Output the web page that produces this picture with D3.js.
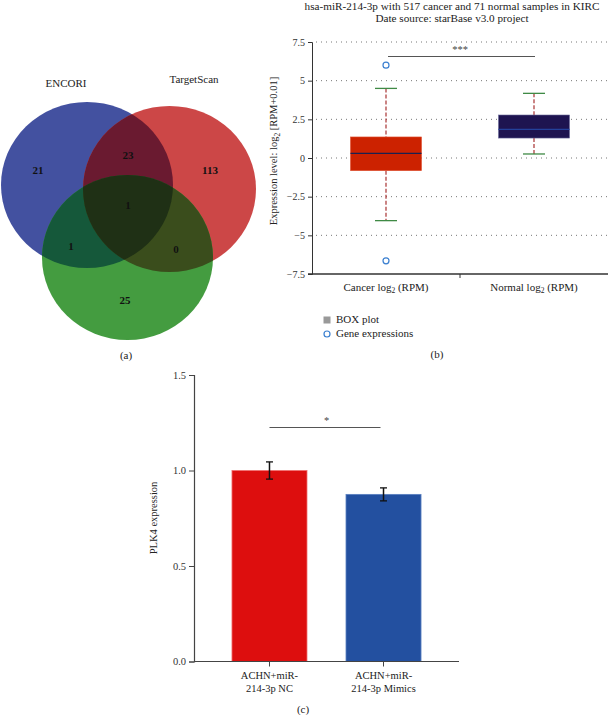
<!DOCTYPE html>
<html><head><meta charset="utf-8">
<script src="https://cdn.jsdelivr.net/npm/d3@7"></script>
<style>
body{margin:0;background:#fff;}
svg{display:block;font-family:"Liberation Serif","DejaVu Serif",serif;}
</style></head>
<body><svg id="c" width="608" height="715"></svg>
<script>
// ---------- Venn data ----------
const vennSets = ["ENCORI", "TargetScan", "Third"];
const vennRegionLabels = ["21", "113", "25", "23", "1", "0", "1"]; // A, B, C, AB, AC, BC, ABC
// ---------- Box plot data ----------
const boxCategories = ["Cancer", "Normal"];
const boxQ1 = [-0.82, 1.29];
const boxMedian = [0.3, 1.85];
const boxQ3 = [1.36, 2.78];
const boxWhiskerLow = [-4.05, 0.26];
const boxWhiskerHigh = [4.5, 4.18];
const boxOutliers = [[6.0, -6.65], []];
const boxTicks = [7.5, 5, 2.5, 0, -2.5, -5, -7.5];
// ---------- Bar data ----------
const barCategories = ["NC", "Mimics"];
const barLabels = [["ACHN+miR-", "214-3p NC"], ["ACHN+miR-", "214-3p Mimics"]];
const barValues = [1.0, 0.875];
const barErrors = [0.045, 0.034];
const barTicks = [0, 0.5, 1.0, 1.5];

const svg = d3.select("#c");
const defs = svg.append("defs");

// ================= (a) Venn =================
const ell = [
  {cx: 87, cy: 185, rx: 86, ry: 83, color: "#4351a0"},
  {cx: 169.5, cy: 189, rx: 86.5, ry: 83, color: "#cc4747"},
  {cx: 127.5, cy: 257.5, rx: 85.5, ry: 82.5, color: "#449c40"}
];
ell.forEach((e, i) => {
  defs.append("clipPath").attr("id", "clip" + i)
    .append("ellipse").attr("cx", e.cx).attr("cy", e.cy).attr("rx", e.rx).attr("ry", e.ry);
});
const gV = svg.append("g");
function drawEll(i, fill, clips) {
  let parent = gV;
  clips.forEach(c => { parent = parent.append("g").attr("clip-path", `url(#clip${c})`); });
  const e = ell[i];
  parent.append("ellipse").attr("cx", e.cx).attr("cy", e.cy).attr("rx", e.rx).attr("ry", e.ry).attr("fill", fill);
}
drawEll(0, ell[0].color, []);
drawEll(1, ell[1].color, []);
drawEll(2, ell[2].color, []);
drawEll(1, "#6a1a30", [0]);
drawEll(2, "#15583a", [0]);
drawEll(2, "#3a4d1c", [1]);
drawEll(2, "#1f3015", [0, 1]);

const vennLabelPos = [[38, 171], [210, 171], [125, 301], [128, 156], [71, 247], [176, 250], [128, 206]];
gV.selectAll("text.num").data(vennRegionLabels).join("text").attr("class", "num")
  .attr("x", (d, i) => vennLabelPos[i][0]).attr("y", (d, i) => vennLabelPos[i][1])
  .attr("text-anchor", "middle").attr("dominant-baseline", "middle")
  .attr("font-size", 11).attr("font-weight", "bold").attr("fill", "#111").text(d => d);
const setLabelPos = [[66, 84], [194, 80]];
gV.selectAll("text.set").data(vennSets.slice(0, 2)).join("text").attr("class", "set")
  .attr("x", (d, i) => setLabelPos[i][0]).attr("y", (d, i) => setLabelPos[i][1])
  .attr("text-anchor", "middle").attr("dominant-baseline", "middle")
  .attr("font-size", 11).attr("fill", "#222").text(d => d);
svg.append("text").attr("x", 126).attr("y", 356).attr("text-anchor", "middle")
  .attr("dominant-baseline", "middle").attr("font-size", 11).attr("fill", "#222").text("(a)");

// ================= (b) Box plot =================
const gB = svg.append("g");
const yB = d3.scaleLinear().domain([-7.5, 7.5]).range([274, 42]);
const xB = d3.scaleBand().domain(boxCategories).range([312, 608]).padding(0);
gB.append("text").attr("x", 452).attr("y", 7).attr("text-anchor", "middle").attr("dominant-baseline", "middle")
  .attr("font-size", 11.2).attr("fill", "#222").text("hsa-miR-214-3p with 517 cancer and 71 normal samples in KIRC");
gB.append("text").attr("x", 452).attr("y", 19).attr("text-anchor", "middle").attr("dominant-baseline", "middle")
  .attr("font-size", 11.2).attr("fill", "#222").text("Date source: starBase v3.0 project");
// gridlines
gB.selectAll("line.grid").data(boxTicks.filter(t => t !== -7.5)).join("line").attr("class", "grid")
  .attr("x1", 316).attr("x2", 608).attr("y1", d => yB(d)).attr("y2", d => yB(d))
  .attr("stroke", "#777").attr("stroke-width", 1).attr("stroke-dasharray", "1,4");
// y axis
const yAxB = gB.append("g").attr("transform", "translate(312,0)")
  .call(d3.axisLeft(yB).tickValues(boxTicks).tickSize(4).tickFormat(d3.format("")));
yAxB.select(".domain").attr("stroke", "#333");
yAxB.selectAll(".tick line").attr("stroke", "#333");
yAxB.selectAll(".tick text").attr("font-family", "Liberation Serif").attr("font-size", 10).attr("fill", "#333");
// x axis
gB.append("line").attr("x1", 308).attr("x2", 608).attr("y1", 274).attr("y2", 274).attr("stroke", "#333").attr("stroke-width", 1.3);
gB.append("line").attr("x1", xB.step() + 312).attr("x2", xB.step() + 312).attr("y1", 274).attr("y2", 278).attr("stroke", "#333");
const xlab = gB.selectAll("text.xl").data(boxCategories).join("text").attr("class", "xl")
  .attr("x", d => xB(d) + xB.bandwidth() / 2).attr("y", 288).attr("text-anchor", "middle")
  .attr("dominant-baseline", "middle").attr("font-size", 11).attr("fill", "#222");
xlab.append("tspan").text(d => d + " log");
xlab.append("tspan").attr("font-size", 7.5).attr("dy", 3).text("2");
xlab.append("tspan").attr("dy", -3).text(" (RPM)");
// y label
const yl = gB.append("text").attr("transform", "translate(275,151) rotate(-90)").attr("text-anchor", "middle")
  .attr("dominant-baseline", "middle").attr("font-size", 10.5).attr("fill", "#222");
yl.append("tspan").text("Expression level: log");
yl.append("tspan").attr("font-size", 7.5).attr("dy", 3).text("2");
yl.append("tspan").attr("dy", -3).text(" [RPM+0.01]");
// boxes
const boxW = 71, capW = 22;
const boxFill = ["#cc2200", "#1e1450"];
const medColor = ["#1a2050", "#24409a"];
boxCategories.forEach((c, i) => {
  const cx = xB(c) + xB.bandwidth() / 2;
  gB.append("line").attr("x1", cx).attr("x2", cx).attr("y1", yB(boxWhiskerHigh[i])).attr("y2", yB(boxQ3[i]))
    .attr("stroke", "#a83232").attr("stroke-width", 1.2).attr("stroke-dasharray", "4,2");
  gB.append("line").attr("x1", cx).attr("x2", cx).attr("y1", yB(boxQ1[i])).attr("y2", yB(boxWhiskerLow[i]))
    .attr("stroke", "#a83232").attr("stroke-width", 1.2).attr("stroke-dasharray", "4,2");
  [boxWhiskerHigh[i], boxWhiskerLow[i]].forEach(v => {
    gB.append("line").attr("x1", cx - capW / 2).attr("x2", cx + capW / 2).attr("y1", yB(v)).attr("y2", yB(v))
      .attr("stroke", "#3f8a45").attr("stroke-width", 1.3);
  });
  gB.append("rect").attr("x", cx - boxW / 2).attr("y", yB(boxQ3[i])).attr("width", boxW)
    .attr("height", yB(boxQ1[i]) - yB(boxQ3[i])).attr("fill", boxFill[i]).attr("stroke", i ? "#6a6a9a" : "#e05030").attr("stroke-width", 0.6);
  gB.append("line").attr("x1", cx - boxW / 2).attr("x2", cx + boxW / 2).attr("y1", yB(boxMedian[i])).attr("y2", yB(boxMedian[i]))
    .attr("stroke", medColor[i]).attr("stroke-width", 1.2);
  boxOutliers[i].forEach(v => {
    gB.append("circle").attr("cx", cx).attr("cy", yB(v)).attr("r", 3).attr("fill", "none")
      .attr("stroke", "#3a7fd0").attr("stroke-width", 1.2);
  });
});
// significance
const c0 = xB(boxCategories[0]) + xB.bandwidth() / 2, c1 = xB(boxCategories[1]) + xB.bandwidth() / 2;
gB.append("line").attr("x1", c0 + 2).attr("x2", c1 + 1).attr("y1", 56.5).attr("y2", 56.5).attr("stroke", "#555").attr("stroke-width", 1);
gB.append("text").attr("x", (c0 + c1) / 2).attr("y", 51).attr("text-anchor", "middle").attr("dominant-baseline", "middle")
  .attr("font-size", 10.5).attr("fill", "#444").text("***");
// legend
gB.append("rect").attr("x", 323.5).attr("y", 316.5).attr("width", 7).attr("height", 7).attr("fill", "#999");
gB.append("text").attr("x", 336).attr("y", 320).attr("dominant-baseline", "middle").attr("font-size", 11).attr("fill", "#222").text("BOX plot");
gB.append("circle").attr("cx", 327).attr("cy", 334).attr("r", 3).attr("fill", "none").attr("stroke", "#3a7fd0").attr("stroke-width", 1.2);
gB.append("text").attr("x", 336).attr("y", 334).attr("dominant-baseline", "middle").attr("font-size", 11).attr("fill", "#222").text("Gene expressions");
gB.append("text").attr("x", 437).attr("y", 355).attr("text-anchor", "middle").attr("dominant-baseline", "middle")
  .attr("font-size", 11).attr("fill", "#222").text("(b)");

// ================= (c) Bar chart =================
const gC = svg.append("g");
const yC = d3.scaleLinear().domain([0, 1.5]).range([661.5, 375]);
const xC = d3.scaleBand().domain(barCategories).range([194, 459]).paddingInner(0.342).paddingOuter(0.333);
const barFill = ["#dd0e0e", "#2350a0"];
const barStroke = ["#f07070", "#5a80c0"];
gC.selectAll("rect.bar").data(barValues).join("rect").attr("class", "bar")
  .attr("x", (d, i) => xC(barCategories[i])).attr("width", xC.bandwidth())
  .attr("y", d => yC(d)).attr("height", d => yC(0) - yC(d))
  .attr("fill", (d, i) => barFill[i]).attr("stroke", (d, i) => barStroke[i]).attr("stroke-width", 0.8);
barValues.forEach((v, i) => {
  const cx = xC(barCategories[i]) + xC.bandwidth() / 2;
  const t = yC(v + barErrors[i]), b = yC(v - barErrors[i]);
  gC.append("line").attr("x1", cx).attr("x2", cx).attr("y1", t).attr("y2", b).attr("stroke", "#111").attr("stroke-width", 1.5);
  [t, b].forEach(y => gC.append("line").attr("x1", cx - 3.5).attr("x2", cx + 3.5).attr("y1", y).attr("y2", y).attr("stroke", "#111").attr("stroke-width", 1.3));
});
const yAxC = gC.append("g").attr("transform", "translate(194,0)")
  .call(d3.axisLeft(yC).tickValues(barTicks).tickSize(5).tickFormat(d3.format(".1f")));
yAxC.select(".domain").attr("stroke", "#444").attr("stroke-width", 1.2);
yAxC.selectAll(".tick line").attr("stroke", "#444");
yAxC.selectAll(".tick text").attr("font-family", "Liberation Serif").attr("font-size", 10.5).attr("fill", "#333");
const xAxC = gC.append("g").attr("transform", "translate(0,661.5)")
  .call(d3.axisBottom(xC).tickSize(5).tickFormat(""));
xAxC.select(".domain").attr("stroke", "#444").attr("stroke-width", 1.2).attr("d", "M194,0H459");
xAxC.selectAll(".tick line").attr("stroke", "#444");
barLabels.forEach((lines, i) => {
  const cx = xC(barCategories[i]) + xC.bandwidth() / 2;
  lines.forEach((ln, j) => {
    gC.append("text").attr("x", cx).attr("y", 677 + j * 13).attr("text-anchor", "middle").attr("dominant-baseline", "middle")
      .attr("font-size", 10.5).attr("fill", "#222").text(ln);
  });
});
gC.append("text").attr("transform", "translate(155,518) rotate(-90)").attr("text-anchor", "middle")
  .attr("dominant-baseline", "middle").attr("font-size", 10.5).attr("fill", "#222").text("PLK4 expression");
const b0 = xC(barCategories[0]) + xC.bandwidth() / 2, b1 = xC(barCategories[1]) + xC.bandwidth() / 2;
gC.append("line").attr("x1", b0).attr("x2", b1 - 3).attr("y1", 427.5).attr("y2", 427.5).attr("stroke", "#555").attr("stroke-width", 1);
gC.append("text").attr("x", (b0 + b1) / 2).attr("y", 422).attr("text-anchor", "middle").attr("dominant-baseline", "middle")
  .attr("font-size", 10.5).attr("fill", "#444").text("*");
gC.append("text").attr("x", 303).attr("y", 710).attr("text-anchor", "middle").attr("dominant-baseline", "middle")
  .attr("font-size", 11).attr("fill", "#222").text("(c)");
</script></body></html>
